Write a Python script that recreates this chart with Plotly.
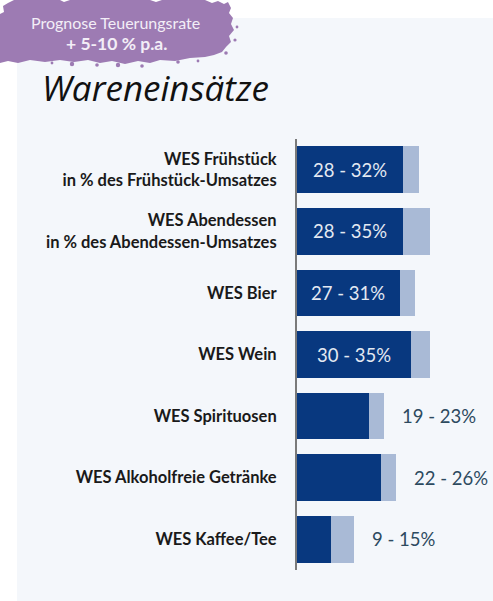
import plotly.graph_objects as go

categories = [
    "WES Frühstück<br>in % des Frühstück-Umsatzes",
    "WES Abendessen<br>in % des Abendessen-Umsatzes",
    "WES Bier",
    "WES Wein",
    "WES Spirituosen",
    "WES Alkoholfreie Getränke",
    "WES Kaffee/Tee",
]
low_values = [28, 28, 27, 30, 19, 22, 9]
high_values = [32, 35, 31, 35, 23, 26, 15]
value_labels = ["28 - 32%", "28 - 35%", "27 - 31%", "30 - 35%", "19 - 23%", "22 - 26%", "9 - 15%"]
title_text = "Wareneinsätze"
badge_line1 = "Prognose Teuerungsrate"
badge_line2 = "+ 5-10 % p.a."

W_FIG, H_FIG = 493, 601
L, R, T, B = 297, 6, 139, 31
PW = W_FIG - L - R
PH = H_FIG - T - B


def px2x(px):
    return (px - L) / PW


def px2y(py):
    return (T + PH - py) / PH


DARK = "#08387f"
LIGHT = "#a9bad6"
PANEL = "#f4f7fb"
PURPLE = "#9d7bb3"

fig = go.Figure()
fig.add_trace(go.Bar(
    y=categories, x=low_values, orientation="h",
    marker=dict(color=DARK, line=dict(width=0)), hoverinfo="skip",
))
fig.add_trace(go.Bar(
    y=categories, x=[h - l for h, l in zip(high_values, low_values)], base=low_values,
    orientation="h", marker=dict(color=LIGHT, line=dict(width=0)), hoverinfo="skip",
))

annotations = []
for cat, lo, hi, lab in zip(categories, low_values, high_values, value_labels):
    if lo >= 25:
        annotations.append(dict(x=lo / 2, y=cat, xref="x", yref="y", text=lab, showarrow=False,
                                xanchor="center", yanchor="middle",
                                font=dict(family="Lato", size=18.5, color="#e3e9f2")))
    else:
        annotations.append(dict(x=hi, y=cat, xref="x", yref="y", text=lab, showarrow=False,
                                xanchor="left", yanchor="middle", xshift=16,
                                font=dict(family="Lato", size=18.5, color="#2d4a5f")))

# title
annotations.append(dict(x=px2x(40), y=px2y(88), xref="paper", yref="paper", text="<i>" + title_text + "</i>",
                        showarrow=False, xanchor="left", yanchor="middle",
                        font=dict(family="Open Sans", size=35, color="#111111")))
# badge text
annotations.append(dict(x=px2x(115), y=px2y(22), xref="paper", yref="paper", text=badge_line1,
                        showarrow=False, xanchor="center", yanchor="middle",
                        font=dict(family="Lato", size=16, color="#f3eef7")))
annotations.append(dict(x=px2x(116), y=px2y(43), xref="paper", yref="paper", text="<b>" + badge_line2 + "</b>",
                        showarrow=False, xanchor="center", yanchor="middle",
                        font=dict(family="Lato", size=17.5, color="#f3eef7")))

# badge brush shape (pixel outline)
badge_pts = [
    (0, 14), (4, 12), (3, 6), (8, 3), (14, 0), (60, 0), (64, 2), (70, 0), (150, 0), (156, 2),
    (162, 0), (205, 0), (212, 3), (218, 1), (224, 4), (228, 2), (231, 8), (229, 13), (233, 18),
    (231, 24), (234, 30), (229, 36), (231, 42), (226, 47), (222, 52), (214, 55), (205, 57),
    (190, 58), (175, 61), (160, 60), (150, 63), (138, 61), (125, 64), (112, 61), (100, 63),
    (88, 60), (74, 62), (60, 60), (45, 62), (30, 60), (18, 63), (8, 61), (0, 63),
]
path = "M " + " L ".join(f"{px2x(x):.5f},{px2y(y):.5f}" for x, y in badge_pts) + " Z"

shapes = [
    dict(type="rect", xref="paper", yref="paper", x0=px2x(17), x1=px2x(W_FIG + 5),
         y0=px2y(H_FIG + 5), y1=px2y(18), fillcolor=PANEL, line=dict(width=0), layer="below"),
    dict(type="path", xref="paper", yref="paper", path=path, fillcolor=PURPLE,
         line=dict(width=0), layer="above"),
]
# specks around the brush stroke
specks = [(72, 64, 2.2), (97, 65, 1.8), (118, 65, 2.2), (142, 66, 1.8), (178, 62, 1.8),
          (235, 40, 1.6), (237, 27, 1.4), (226, 53, 1.8), (198, 61, 1.4), (52, 63, 1.4)]
for sx, sy, r in specks:
    shapes.append(dict(type="circle", xref="paper", yref="paper", x0=px2x(sx - r), x1=px2x(sx + r),
                       y0=px2y(sy + r), y1=px2y(sy - r), fillcolor=PURPLE, line=dict(width=0),
                       layer="above"))

fig.update_layout(
    width=W_FIG, height=H_FIG,
    margin=dict(l=L, r=R, t=T, b=B, autoexpand=False),
    barmode="stack", bargap=0.24, showlegend=False,
    paper_bgcolor="white", plot_bgcolor="rgba(0,0,0,0)",
    xaxis=dict(range=[0, 50], visible=False, fixedrange=True),
    yaxis=dict(autorange="reversed", showline=True, linecolor="#7a7a7a", linewidth=2,
               showgrid=False, zeroline=False, ticks="", ticklabelstandoff=15, fixedrange=True,
               tickfont=dict(family="Lato", size=16.5, color="#1a1a1a", weight="bold")),
    annotations=annotations, shapes=shapes,
)

fig.write_html("out.html", config={"displayModeBar": False},
               post_script="document.body.style.margin='0';document.body.style.overflow='hidden';")
